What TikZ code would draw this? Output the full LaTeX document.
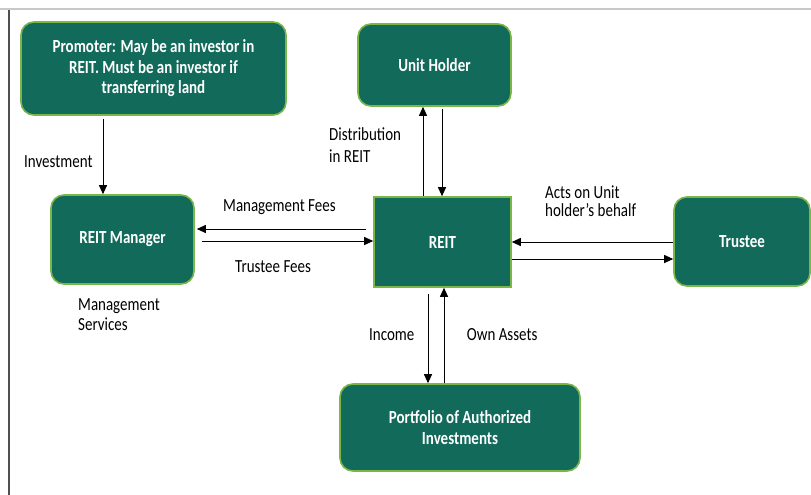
\documentclass[tikz,border=0pt]{standalone}
\usepackage{fontspec}
\newfontfamily\labfont[FakeStretch=0.81]{Carlito}
\usetikzlibrary{arrows.meta}
\definecolor{boxfill}{HTML}{116A5A}
\definecolor{boxedge}{HTML}{7AB648}
\definecolor{rulegray}{HTML}{C8C8C8}
\definecolor{sidegray}{HTML}{505050}
\begin{document}
\begin{tikzpicture}[x=1pt,y=-1pt,
  card/.style={draw=boxedge, line width=1.6pt, fill=boxfill, rounded corners=13pt,
    text=white, font=\labfont\bfseries\fontsize{18.5}{20.5}\selectfont,
    align=center, inner sep=0pt},
  flow/.style={-{Triangle[length=9pt,width=8pt]}, line width=1pt, black},
  note/.style={font=\labfont\fontsize{18.5}{20}\selectfont, inner sep=0pt,
    align=left, anchor=base west}]
\useasboundingbox (0,0) rectangle (811,495);

% frame lines
\draw[rulegray, line width=2pt] (0,9.5) -- (811,9.5);
\draw[sidegray, line width=2pt] (9,10.5) -- (9,495);

% entities
\node[card, minimum width=265pt, minimum height=93pt] (prom) at (153.5,68.5)
  {Promoter: May be an investor in\\REIT. Must be an investor if\\transferring land};
\node[card, minimum width=153pt, minimum height=82pt] (uh) at (434.5,65) {Unit Holder};
\node[card, minimum width=143pt, minimum height=89pt] (mgr) at (122.5,239.5) {REIT Manager};
\node[card, rounded corners=0pt, minimum width=137pt, minimum height=90pt] (reit) at (442.5,242) {REIT};
\node[card, minimum width=136pt, minimum height=89pt] (tru) at (742,241.5) {Trustee};
\node[card, minimum width=240pt, minimum height=87pt] (port) at (460,427.5)
  {Portfolio of Authorized\\Investments};

% flows
\draw[flow] ([xshift=-50.5pt,yshift=-3pt]prom.south) -- ([xshift=-19.5pt]mgr.north);
\draw[flow] ([xshift=-7pt,yshift=13pt]reit.west) -- ([xshift=2pt,yshift=10.5pt]mgr.east);
\draw[flow] ([xshift=7pt,yshift=-1.5pt]mgr.east) -- ([yshift=1pt]reit.west);
\draw[flow] ([yshift=-0.5pt]tru.west) -- (reit.east);
\draw[flow] ([yshift=-17pt]reit.east) -- ([yshift=-17.5pt]tru.west);
\draw[flow] ([xshift=-19.5pt]reit.north) -- ([xshift=-11.5pt]uh.south);
\draw[flow] ([xshift=7.5pt,yshift=-2pt]uh.south) -- ([xshift=-0.5pt]reit.north);
\draw[flow] ([xshift=-14.5pt,yshift=-6pt]reit.south) -- ([xshift=-32pt]port.north);
\draw[flow] ([xshift=-16pt]port.north) -- ([xshift=1.5pt]reit.south);

% flow labels (multi-line labels sit on the baseline of their last line)
\node[note] (linv) at (24,167.7) {Investment};
\node[note] (lmf) at (223,211.5) {Management Fees};
\node[note] (ltf) at (235,272.5) {Trustee Fees};
\node[note] (lms) at (78,330.5) {Management\\Services};
\node[note, font=\labfont\fontsize{18.5}{22.3}\selectfont] (ldist) at (329,162.3) {Distribution\\in REIT};
\node[note, font=\labfont\fontsize{18.5}{18.5}\selectfont] (lacts) at (545,216.7) {Acts on Unit\\holder’s behalf};
\node[note] (linc) at (369,340.7) {Income};
\node[note] (lown) at (466.7,340.7) {Own Assets};
\end{tikzpicture}
\end{document}
